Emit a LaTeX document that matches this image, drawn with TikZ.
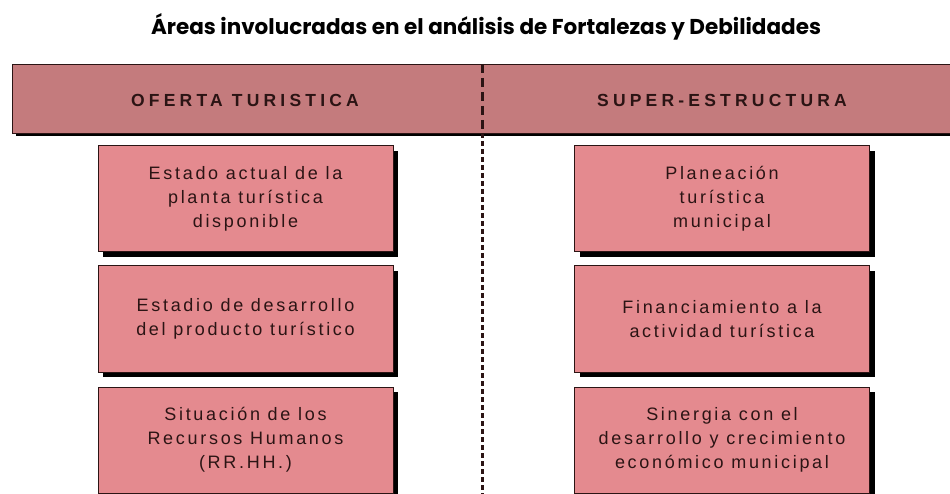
\documentclass[tikz,border=0pt]{standalone}
\usepackage{fontspec}
\setmainfont{Liberation Sans}
\newfontfamily\titlefont{Poppins}
\newfontfamily\boxfont{Liberation Sans}[LetterSpace=15]
\newfontfamily\headfont{Liberation Sans}[LetterSpace=24]
\usetikzlibrary{shadows}
\definecolor{barfill}{HTML}{C47B7D}
\definecolor{boxfill}{HTML}{E48A8F}
\definecolor{inkdark}{HTML}{2B1414}

\begin{document}
\begin{tikzpicture}[x=1pt, y=-1pt,
    bar/.style={draw=inkdark, line width=1pt, fill=barfill,
      drop shadow={shadow xshift=3pt, shadow yshift=-3pt, opacity=1, fill=black}},
    area/.style={draw=inkdark, line width=1pt, fill=boxfill, inner sep=0pt,
      minimum width=295pt, minimum height=106pt, align=center, text=inkdark,
      font=\boxfont\fontsize{18}{24}\selectfont,
      drop shadow={shadow xshift=5pt, shadow yshift=-5pt, opacity=1, fill=black}},
    heading/.style={text=inkdark, font=\headfont\bfseries\fontsize{17.5}{20}\selectfont}]
    \useasboundingbox (0,0) rectangle (950,494);
    \clip (0,0) rectangle (950,494);

    % Title
    \node[font=\titlefont\bfseries\fontsize{21.5}{24}\selectfont] (title) at (486,27)
      {Áreas involucradas en el análisis de Fortalezas y Debilidades};

    % Header bar
    \node[bar, anchor=north west, minimum width=960pt, minimum height=69pt] (header) at (12,64) {};
    \node[heading] (oferta) at (245,100) {OFERTA TURISTICA};
    \node[heading] (superest) at (722,100) {SUPER-ESTRUCTURA};

    % Divider
    \coordinate (divtop) at (482,64);
    \coordinate (divmid) at (482,133);
    \coordinate (divbot) at (482,494);
    \draw[inkdark, line width=3pt, dash pattern=on 9pt off 5pt] (divtop) -- (divmid);
    \draw[inkdark, line width=3pt, dash pattern=on 5pt off 3pt] (divmid) -- (divbot);

    % Oferta turistica
    \node[area] (planta) at (245.5,199) {Estado actual de la\\planta turística\\disponible};
    \node[area] (producto) at (245.5,319) {Estadio de desarrollo\\del producto turístico};
    \node[area] (rrhh) at (245.5,440) {Situación de los\\Recursos Humanos\\(RR.HH.)};

    % Super-estructura
    \node[area] (planeacion) at (722,199) {Planeación\\turística\\municipal};
    \node[area] (financiamiento) at (722,319) {Financiamiento a la\\actividad turística};
    \node[area] (sinergia) at (722,440) {Sinergia con el\\desarrollo y crecimiento\\económico municipal};
\end{tikzpicture}
\end{document}
